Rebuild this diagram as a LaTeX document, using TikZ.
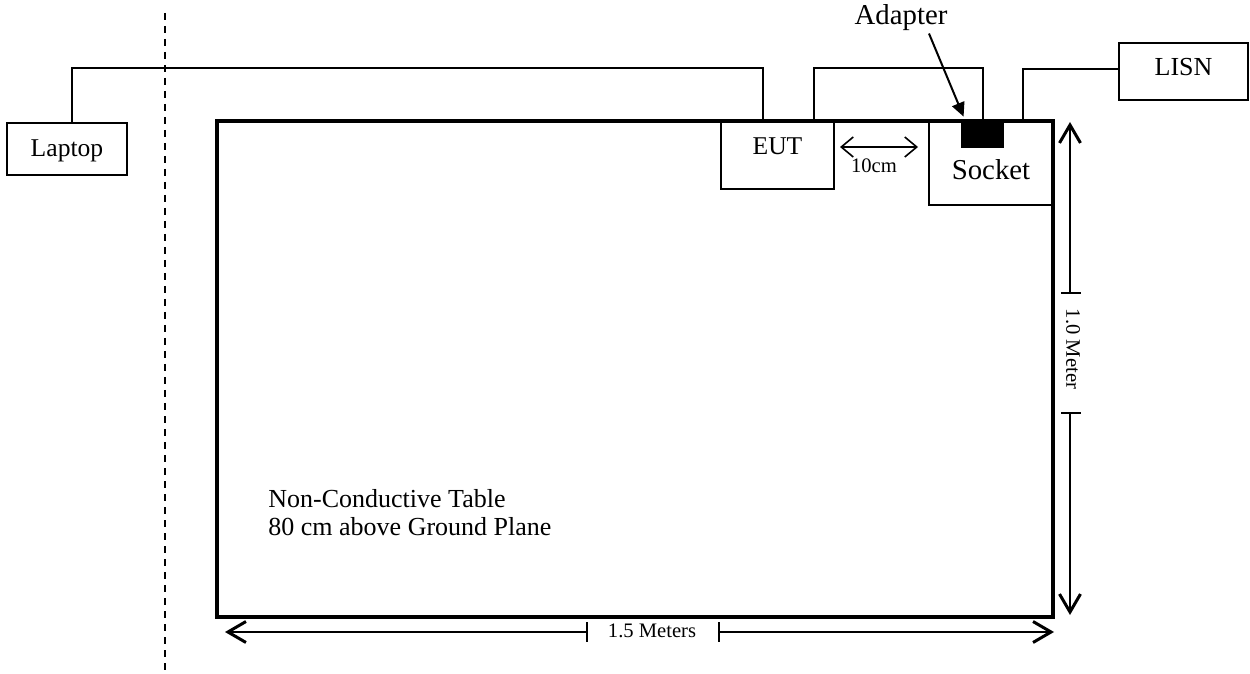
\documentclass[tikz,border=0pt]{standalone}
\usepackage{fontspec}
\setmainfont{Liberation Serif}
\usetikzlibrary{arrows.meta}

\begin{document}
\begin{tikzpicture}[x=0.5pt, y=-0.5pt,
    box/.style={draw, line width=1pt, inner sep=0pt, font=\fontsize{12.8}{14}\selectfont},
    wire/.style={line width=1pt},
    dim/.style={line width=1pt, -{Straight Barb[length=9pt,width=10.5pt,line width=1.5pt]}},
    small/.style={inner sep=0pt, font=\fontsize{10.3}{12}\selectfont}]
    \useasboundingbox (0,0) rectangle (1250,674);

    % Table
    \node[draw, line width=2pt, minimum width=418pt, minimum height=248pt, inner sep=0pt] (table) at (635,369) {};
    \node[inner sep=0pt, anchor=north west, align=left, font=\fontsize{13}{14}\selectfont] (tablenote) at (268,489)
        {Non-Conductive Table\\80 cm above Ground Plane};

    % Boxes
    \node[box, minimum width=60pt, minimum height=26pt, text height=8.5pt, text depth=0.5pt] (laptop) at (67,149) {Laptop};
    \node[box, minimum width=56.5pt, minimum height=34pt, text height=9pt, text depth=9pt] (eut) at (777.5,155) {EUT};
    \node[box, minimum width=62pt, minimum height=42pt, text height=17pt, text depth=0pt, font=\fontsize{14.4}{16}\selectfont] (socket) at (991,163) {Socket};
    \node[fill=black, inner sep=0pt, minimum width=21.5pt, minimum height=13.5pt] (adapter) at (982.5,134.5) {};
    \node[box, minimum width=64.5pt, minimum height=28.5pt, text height=8.5pt, text depth=4.8pt, font=\fontsize{13}{14}\selectfont] (lisn) at (1183.5,71.5) {LISN};
    \node[inner sep=0pt, anchor=base, font=\fontsize{14.4}{16}\selectfont] (adapterlbl) at (901,25) {Adapter};

    % Separation line
    \draw[line width=1pt, dash pattern=on 3.5pt off 3pt] (165,13) -- (165,674);

    % Cables
    \draw[wire] ([xshift=2.5pt]laptop.north) -- ++(0,27pt) -| ([xshift=-7.25pt]eut.north);
    \draw[wire] ([xshift=18.25pt]eut.north) -- ++(0,26pt) -| (adapter.north);
    \draw[wire] ([xshift=16pt]socket.north) |- ([yshift=1.25pt]lisn.west);
    \draw[line width=1pt, -{Triangle[length=7pt,width=6.5pt]}] ([xshift=14pt,yshift=-1pt]adapterlbl.south) -- ([xshift=1.5pt,yshift=2pt]adapter.north west);

    % 10 cm spacing
    \node[small, anchor=base] (gap) at (874,173) {10cm};
    \draw[line width=0.8pt, {Straight Barb[length=6pt,width=10pt]}-{Straight Barb[length=6pt,width=10pt]}] (840,147) -- (918,147);

    % Dimensions
    \node[small, anchor=base] (width) at (652,637) {1.5 Meters};
    \draw[dim] (587,632) -- (225,632);
    \draw[dim] (719,632) -- (1054,632);
    \draw[line width=1pt] (587,622) -- (587,642);
    \draw[line width=1pt] (719,622) -- (719,642);

    \node[small, rotate=-90] (depth) at (1073,349) {1.0 Meter};
    \draw[dim] (1070,293) -- (1070,122);
    \draw[dim] (1070,413) -- (1070,615);
    \draw[line width=1pt] (1061,293) -- (1081,293);
    \draw[line width=1pt] (1061,413) -- (1081,413);
\end{tikzpicture}
\end{document}
